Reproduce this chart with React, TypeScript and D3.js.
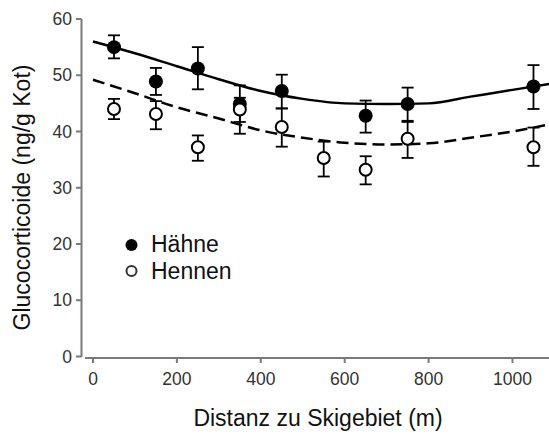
import React from "react";
import * as d3 from "d3";

const distances = [50, 150, 250, 350, 450, 550, 650, 750, 1050];

const haehneX = [50, 150, 250, 350, 450, 650, 750, 1050];
const haehneMean = [55.0, 48.9, 51.2, 44.9, 47.2, 42.8, 44.9, 48.0];
const haehneLow = [53.0, 46.5, 47.5, 41.7, 44.1, 39.8, 41.9, 44.0];
const haehneHigh = [57.1, 51.3, 55.0, 48.2, 50.1, 45.5, 47.8, 51.8];

const hennenMean = [44.0, 43.1, 37.2, 43.9, 40.8, 35.3, 33.2, 38.7, 37.2];
const hennenLow = [42.2, 40.4, 34.8, 39.6, 37.3, 32.0, 30.6, 35.3, 33.9];
const hennenHigh = [45.8, 45.4, 39.3, 46.0, 44.1, 38.2, 35.6, 41.7, 40.7];

const fitX = [0, 100, 200, 300, 400, 500, 600, 700, 800, 900, 1000, 1090];
const fitHaehne = [56.0, 53.9, 51.6, 49.3, 47.2, 45.8, 45.0, 44.9, 45.0, 46.2, 47.4, 48.5];
const fitHennen = [49.2, 46.8, 44.3, 42.3, 40.2, 38.9, 38.0, 37.7, 37.9, 38.9, 40.0, 41.3];

const xTicks = [0, 200, 400, 600, 800, 1000];
const yTicks = [0, 10, 20, 30, 40, 50, 60];

const W = 549;
const H = 437;

export default function App() {
  const x = d3.scaleLinear().domain([0, 1000]).range([93, 512.5]);
  const y = d3.scaleLinear().domain([0, 60]).range([356.5, 19]);
  const line = d3
    .line<number>()
    .x((_, i) => x(fitX[i]))
    .y((d) => y(d))
    .curve(d3.curveMonotoneX);

  const axisColor = "#7a7a7a";
  const labelColor = "#333";
  const font = "Liberation Sans, Arial, sans-serif";
  const cap = 6;
  const titleSize = 23;
  const tickSize = 17.5;

  return (
    <svg
      width={W}
      height={H}
      style={{ position: "absolute", left: 0, top: 0, background: "#fff" }}
      fontFamily={font}
    >
      {/* y axis */}
      <line x1={81.5} x2={81.5} y1={19} y2={357} stroke={axisColor} strokeWidth={2} />
      {yTicks.map((t) => (
        <g key={"yt" + t}>
          <line x1={76} x2={81.5} y1={y(t)} y2={y(t)} stroke={axisColor} strokeWidth={2} />
          <text
            x={72}
            y={y(t)}
            dy="0.35em"
            textAnchor="end"
            fontSize={tickSize}
            fill={labelColor}
          >
            {t}
          </text>
        </g>
      ))}
      {/* x axis */}
      <line x1={85} x2={549} y1={358} y2={358} stroke={axisColor} strokeWidth={2} />
      {xTicks.map((t) => (
        <g key={"xt" + t}>
          <line x1={x(t)} x2={x(t)} y1={358} y2={363} stroke={axisColor} strokeWidth={2} />
          <text x={x(t)} y={385} textAnchor="middle" fontSize={tickSize} fill={labelColor}>
            {t}
          </text>
        </g>
      ))}

      {/* axis titles */}
      <text
        transform={`translate(30,197.5) rotate(-90)`}
        textAnchor="middle"
        fontSize={titleSize}
        fill="#111"
      >
        Glucocorticoide (ng/g Kot)
      </text>
      <text x={318} y={426} textAnchor="middle" fontSize={titleSize} fill="#111">
        Distanz zu Skigebiet (m)
      </text>

      {/* fitted lines */}
      <path d={line(fitHaehne) || ""} fill="none" stroke="#000" strokeWidth={2.5} />
      <path
        d={line(fitHennen) || ""}
        fill="none"
        stroke="#000"
        strokeWidth={2.5}
        strokeDasharray="12,6"
      />

      {/* Hähne error bars + points */}
      {haehneX.map((d, i) => (
        <g key={"h" + i}>
          <line x1={x(d)} x2={x(d)} y1={y(haehneLow[i])} y2={y(haehneHigh[i])} stroke="#000" strokeWidth={1.8} />
          <line x1={x(d) - cap} x2={x(d) + cap} y1={y(haehneLow[i])} y2={y(haehneLow[i])} stroke="#000" strokeWidth={1.8} />
          <line x1={x(d) - cap} x2={x(d) + cap} y1={y(haehneHigh[i])} y2={y(haehneHigh[i])} stroke="#000" strokeWidth={1.8} />
          <circle cx={x(d)} cy={y(haehneMean[i])} r={7} fill="#000" />
        </g>
      ))}

      {/* Hennen error bars + points */}
      {distances.map((d, i) => (
        <g key={"n" + i}>
          <line x1={x(d)} x2={x(d)} y1={y(hennenLow[i])} y2={y(hennenHigh[i])} stroke="#000" strokeWidth={1.8} />
          <line x1={x(d) - cap} x2={x(d) + cap} y1={y(hennenLow[i])} y2={y(hennenLow[i])} stroke="#000" strokeWidth={1.8} />
          <line x1={x(d) - cap} x2={x(d) + cap} y1={y(hennenHigh[i])} y2={y(hennenHigh[i])} stroke="#000" strokeWidth={1.8} />
          <circle cx={x(d)} cy={y(hennenMean[i])} r={6} fill="#fff" stroke="#000" strokeWidth={2} />
        </g>
      ))}

      {/* legend */}
      <circle cx={131.5} cy={245} r={6} fill="#000" />
      <text x={151} y={252} fontSize={titleSize} fill="#111">Hähne</text>
      <circle cx={131.5} cy={271} r={5} fill="#fff" stroke="#333" strokeWidth={2} />
      <text x={151} y={279} fontSize={titleSize} fill="#111">Hennen</text>
    </svg>
  );
}
